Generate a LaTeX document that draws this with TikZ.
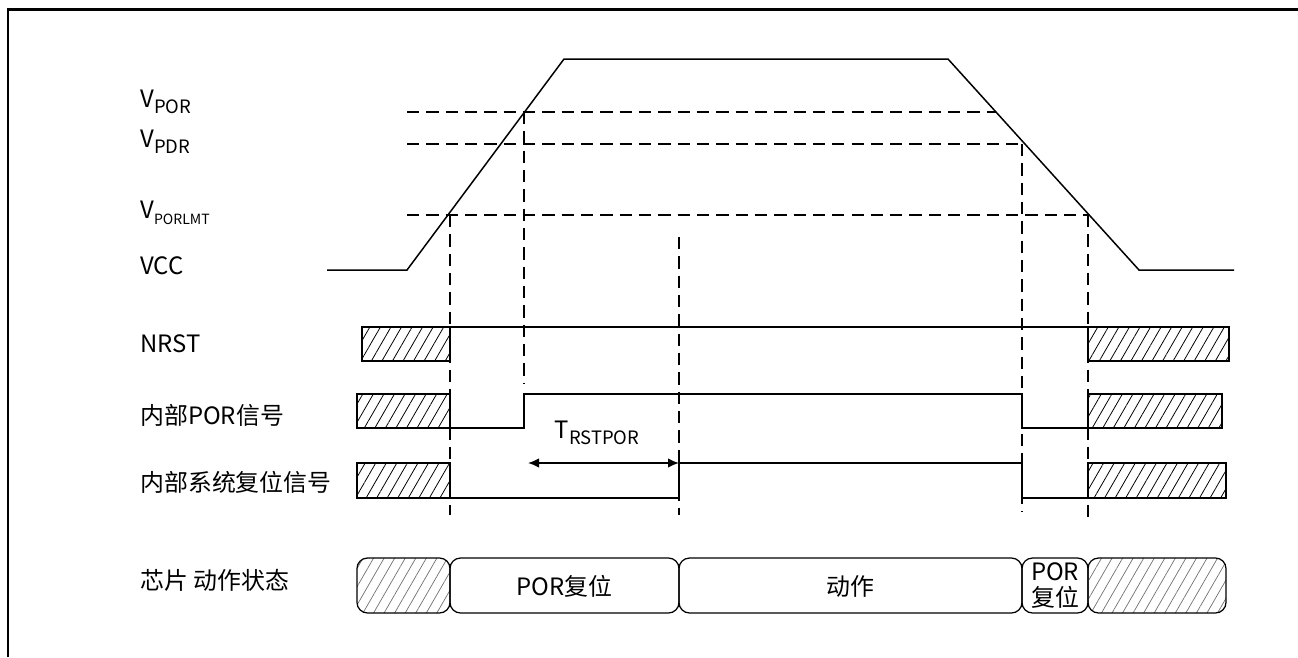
\documentclass[tikz,border=0pt]{standalone}
\usepackage{fontspec}
\setmainfont{Noto Sans CJK SC}
\usetikzlibrary{arrows.meta,patterns.meta}
\definecolor{ink}{HTML}{000000}
\definecolor{hatchgrey}{HTML}{707070}
\newcommand\sigsub[1]{\raisebox{-0.45ex}{\fontsize{10.5}{12}\selectfont #1}}

\begin{document}
\begin{tikzpicture}[x=0.02cm,y=-0.02cm,font=\fontsize{13.6}{16}\selectfont,
    wave/.style={ink,line width=0.85pt},
    guide/.style={ink,line width=0.85pt,dash pattern=on 7pt off 4pt},
    hatchbox/.style={draw=ink,line width=0.85pt,
                     pattern={Lines[angle=60,distance=5.2pt,line width=0.45pt]}},
    statebox/.style={draw=ink,line width=0.7pt,rounded corners=6pt},
    greybox/.style={statebox,pattern={Lines[angle=60,distance=5.2pt,line width=0.4pt]},
                    pattern color=hatchgrey},
    lbl/.style={anchor=west,inner sep=0pt},
    arr/.style={{Latex[length=2.2mm,width=1.9mm]}-{Latex[length=2.2mm,width=1.9mm]},
                ink,line width=0.85pt}]
  \useasboundingbox (0,0) rectangle (1298,657);
  \draw[ink,line width=1.7pt] (8,657) -- (8,9) -- (1298,9);

  % row labels
  \node[lbl] (lpor)  at (140,102) {V\sigsub{POR}};
  \node[lbl] (lpdr)  at (140,142) {V\sigsub{PDR}};
  \node[lbl] (llmt)  at (140,213) {V\sigsub{\fontsize{8}{9}\selectfont PORLMT}};
  \node[lbl] (lvcc)  at (140,266) {VCC};
  \node[lbl] (lnrst) at (140,344) {NRST};
  \node[lbl] (lpsig) at (140,415) {内部POR信号};
  \node[lbl] (lsys)  at (140,482) {内部系统复位信号};
  \node[lbl] (lstat) at (140,580) {芯片 动作状态};

  % thresholds and markers
  \draw[guide] (407,112) -- (996,112);
  \draw[guide] (407,144) -- (1022,144);
  \draw[guide] (407,215) -- (1088,215);
  \foreach \x/\ya/\yb in {450/215/515,524/112/384,679/237/515,1022/144/512,1088/215/517}
    \draw[guide] (\x,\ya) -- (\x,\yb);

  % VCC
  \draw[wave] (327,270) -- (407,270) -- (564,59) -- (948,59) -- (1139,270) -- (1234,270);

  % NRST
  \draw[hatchbox] (362,327) rectangle (450,361);
  \draw[wave] (450,327) -- (1088,327);
  \draw[hatchbox] (1088,327) rectangle (1229,361);

  % internal POR
  \draw[hatchbox] (357,394) rectangle (450,428);
  \draw[wave] (450,428) -- (524,428) -- (524,394) -- (1022,394) -- (1022,428) -- (1088,428);
  \draw[hatchbox] (1088,394) rectangle (1222,428);

  % internal system reset
  \draw[hatchbox] (357,463) rectangle (450,498);
  \draw[wave] (450,498) -- (679,498) -- (679,463) -- (1022,463) -- (1022,498) -- (1088,498);
  \draw[hatchbox] (1088,463) rectangle (1226,498);

  \coordinate (ta) at (528,463);
  \coordinate (tb) at (679,463);
  \draw[arr] (ta) -- (tb);
  \node (trst) at (597,433) {T\sigsub{RSTPOR}};

  % chip state
  \draw[greybox]  (357,558) rectangle (450,613);
  \draw[statebox] (450,558) rectangle (679,613);
  \draw[statebox] (679,558) rectangle (1022,613);
  \draw[statebox] (1022,558) rectangle (1088,613);
  \draw[greybox]  (1088,558) rectangle (1226,613);
  \node (sreset) at (564.5,586) {POR复位};
  \node (srun)   at (850.5,586) {动作};
  \node[align=center,inner sep=0pt,font=\fontsize{13.6}{14.5}\selectfont] (sreset2) at (1055,585.5) {POR\\复位};
\end{tikzpicture}
\end{document}
